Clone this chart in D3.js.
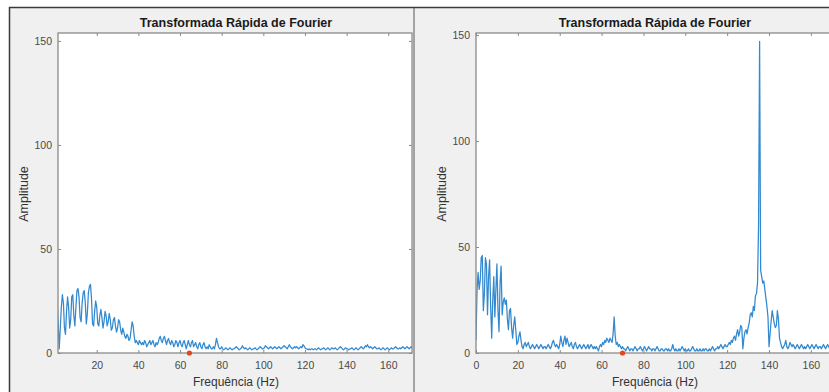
<!DOCTYPE html>
<html>
<head>
<meta charset="utf-8">
<script src="https://cdn.jsdelivr.net/npm/d3@7"></script>
<style>
  body { margin: 0; background: #fff; }
  svg { display: block; }
  text { font-family: "Liberation Sans", Arial, sans-serif; }
</style>
</head>
<body>
<script>
// amplitude spectra, 0.5 Hz bins
var step = 0.5;

// left figure, bins start at 1.0 Hz
var leftStart = 1.0;
var leftAmp = [
  24, 14, 2, 12, 22, 28, 24, 12, 9, 20, 27, 22, 12, 16, 27, 28, 18, 13, 22, 30,
  31, 27, 17, 15, 24, 29, 30, 24, 14, 19, 29, 32, 33, 26, 14, 13, 20, 25, 22, 14,
  13, 18, 21, 17, 12, 15, 20, 18, 13, 15, 19, 16, 11, 12, 16, 17, 13, 10, 12, 16,
  15, 11, 9, 12, 10, 8, 7, 9, 8, 6, 7, 11, 15, 13, 8, 5, 6, 5, 4, 6,
  5, 4, 5, 4, 6, 5, 3, 4, 5, 6, 4, 5, 6, 4, 3, 5, 4, 5, 7, 8,
  6, 5, 7, 8, 6, 4, 6, 7, 5, 4, 6, 5, 3, 4, 6, 5, 3, 5, 6, 4,
  3, 5, 6, 4, 2, 4, 6, 4, 3, 5, 6, 3, 4, 5, 3, 2, 4, 5, 3, 2,
  4, 5, 3, 2, 3, 2, 4, 3, 2, 2, 3, 2, 4, 7, 5, 3, 2, 2, 3, 2,
  1.5, 2, 2.5, 2, 1.5, 2, 2.5, 2, 1.5, 2, 2, 2.5, 3, 2.5, 2, 1.5, 2, 2.5, 3.5, 2.5,
  2, 2.5, 2, 1.5, 2, 2.5, 2, 1.5, 2, 2, 2.5, 2, 1.5, 2, 2.5, 3, 2.5, 2, 2, 2.5,
  3.5, 3, 2.5, 2, 2.5, 3, 2.5, 2, 2.5, 3, 2.5, 2, 2.5, 3, 2.5, 2, 2.5, 3, 3.5, 3,
  2.5, 2, 3, 4, 3, 2.5, 2, 2.5, 3, 2.5, 3, 2.5, 2, 2.5, 3, 2.5, 4, 3.5, 2.5, 2,
  2, 1.5, 2, 1.5, 2, 2, 1.5, 2, 2, 1.5, 2, 2.5, 2, 1.5, 2, 2, 2.5, 2, 1.5, 2,
  2.5, 2, 1.5, 2, 2.5, 2, 2, 2.5, 2, 1.5, 2, 2.5, 3, 2.5, 2, 1.5, 2, 2.5, 2, 2,
  1.5, 2, 2, 2.5, 2, 1.5, 2, 2.5, 2, 1.5, 2, 2.5, 3, 2.5, 2, 2.5, 3.5, 3, 4, 3,
  2.5, 3, 2.5, 2, 2.5, 3, 2.5, 2, 2, 2.5, 2, 1.5, 2, 2.5, 2, 1.5, 2, 2.5, 2, 1.5,
  2, 2.5, 2, 2, 2.5, 3, 2.5, 2, 2, 2.5, 2, 2.5, 3, 2.5, 2, 2.5, 3, 2.5, 2, 2.5,
  3, 2.5, 2, 2.5, 3, 2.5, 2
];

// right figure, bins start at 0 Hz
var rightStart = 0;
var rightAmp = [
  6, 30, 38, 30, 34, 45, 46, 20, 28, 45, 42, 18, 36, 44, 22, 7, 25, 36, 17, 30,
  42, 20, 10, 33, 41, 18, 24, 26, 23, 25, 16, 11, 20, 21, 12, 7, 13, 17, 11, 4,
  5, 8, 10, 6, 3, 2, 4, 5, 3, 4, 5, 3, 2, 3, 4, 3, 2, 3, 4, 3,
  2, 3, 4, 3, 2, 3, 3, 2, 3, 4, 3, 2, 3, 5, 6, 4, 3, 4, 3, 2,
  4, 8, 5, 3, 6, 8, 4, 7, 5, 3, 4, 5, 3, 2, 4, 5, 3, 2, 3, 4,
  3, 2, 3, 4, 3, 2, 3, 4, 2, 3, 4, 3, 2, 3, 2, 3, 2, 1, 3, 4,
  3, 5, 4, 6, 5, 7, 6, 5, 7, 6, 5, 9, 17, 8, 4, 5, 3, 4, 3, 2,
  3, 2, 2, 1, 2, 3, 2, 1, 2, 2, 1, 2, 3, 2, 1, 2, 2, 3, 2, 1,
  2, 3, 2, 1, 2, 3, 2, 2, 1, 2, 2, 1, 2, 3, 2, 1, 1, 2, 2, 1,
  1, 2, 2, 1, 2, 1, 1, 2, 4, 2, 1, 2, 1, 1, 2, 1, 2, 3, 2, 1,
  2, 1, 1, 2, 1, 1, 2, 3, 2, 1, 1, 2, 1, 1, 2, 1, 1, 2, 1, 2,
  2, 1, 1, 2, 1, 2, 3, 2, 1, 2, 2, 3, 2, 3, 4, 3, 2, 3, 4, 3,
  3, 4, 5, 4, 6, 5, 7, 8, 6, 9, 11, 8, 10, 13, 12, 2, 7, 10, 11, 9,
  12, 14, 18, 19, 17, 22, 20, 27, 28, 33, 60, 147, 39, 36, 33, 34, 30, 26, 22, 17,
  3, 9, 15, 20, 17, 14, 12, 13, 20, 16, 7, 5, 3, 2, 3, 4, 6, 3, 2, 3,
  5, 4, 3, 4, 3, 2, 3, 4, 3, 2, 3, 4, 3, 2, 3, 2, 3, 4, 3, 2,
  3, 4, 3, 2, 3, 4, 3, 2, 3, 3, 2, 3, 4, 3, 2, 3, 4, 3, 2, 3,
  4, 3, 2, 3, 4, 3, 2, 3, 4, 3, 2
];

var leftTicks = [20, 40, 60, 80, 100, 120, 140, 160];
var rightTicks = [0, 20, 40, 60, 80, 100, 120, 140, 160, 180];
var yTicks = [0, 50, 100, 150];
var leftMarker = 64.5;
var rightMarker = 70;

var titleText = "Transformada Rápida de Fourier";
var xLabel = "Frequência (Hz)";
var yLabel = "Amplitude";

var W = 829, H = 392;
var lineColor = "#3289cf";
var axisColor = "#8a8a8a";

var svg = d3.select("body").append("svg")
  .attr("width", W)
  .attr("height", H);

// figure window frame
svg.append("rect").attr("width", W).attr("height", H).attr("fill", "#fff");
svg.append("rect").attr("x", 10).attr("y", 8).attr("width", 403).attr("height", H - 8).attr("fill", "#f0f0f0");
svg.append("rect").attr("x", 415).attr("y", 8).attr("width", W - 415).attr("height", H - 8).attr("fill", "#f0f0f0");
svg.append("rect").attr("x", 413).attr("y", 8).attr("width", 2).attr("height", H - 8).attr("fill", "#a3a3a3");
svg.append("line").attr("x1", 9).attr("x2", W).attr("y1", 7.5).attr("y2", 7.5)
  .attr("stroke", "#3a3a3a").attr("stroke-width", 1.5);
svg.append("line").attr("x1", 9.5).attr("x2", 9.5).attr("y1", 7).attr("y2", H)
  .attr("stroke", "#3a3a3a").attr("stroke-width", 1.5);

function toPoints(amp, start) {
  return amp.map(function (a, i) { return { f: start + i * step, a: a }; });
}

function drawPanel(opt) {
  var g = svg.append("g");

  var x = d3.scaleLinear().domain(opt.xDomain).range([opt.left, opt.right]);
  var y = d3.scaleLinear().domain(opt.yDomain).range([353, 33]);

  var clipId = "clip" + opt.id;
  g.append("clipPath").attr("id", clipId)
    .append("rect")
    .attr("x", opt.left).attr("y", 33)
    .attr("width", opt.right - opt.left).attr("height", 320);

  g.append("rect")
    .attr("x", opt.left).attr("y", 33)
    .attr("width", opt.right - opt.left).attr("height", 320)
    .attr("fill", "#fff");

  var line = d3.line()
    .x(function (d) { return x(d.f); })
    .y(function (d) { return y(d.a); });

  g.append("path")
    .datum(toPoints(opt.amp, opt.start))
    .attr("clip-path", "url(#" + clipId + ")")
    .attr("fill", "none")
    .attr("stroke", lineColor)
    .attr("stroke-width", 1.25)
    .attr("stroke-linejoin", "round")
    .attr("d", line);

  // bottom axis with labels
  var xb = g.append("g")
    .attr("transform", "translate(0,353)")
    .call(d3.axisBottom(x).tickValues(opt.ticks).tickSize(-3).tickPadding(9));
  // top ticks
  var xt = g.append("g")
    .attr("transform", "translate(0,33)")
    .call(d3.axisTop(x).tickValues(opt.ticks).tickSize(-3).tickFormat(""));
  // left axis
  var yl = g.append("g")
    .attr("transform", "translate(" + opt.left + ",0)")
    .call(d3.axisLeft(y).tickValues(yTicks).tickSize(-3).tickPadding(6));
  // right ticks
  var yr = g.append("g")
    .attr("transform", "translate(" + opt.right + ",0)")
    .call(d3.axisRight(y).tickValues(yTicks).tickSize(-3).tickFormat(""));

  [xb, xt, yl, yr].forEach(function (a) {
    a.select(".domain").remove();
    a.selectAll(".tick line").attr("stroke", axisColor);
    a.selectAll(".tick text")
      .attr("fill", "#4a4a4a")
      .style("font-size", "10.5px");
  });
  xb.selectAll(".tick").filter(function (d) { return x(d) > opt.clipRight; }).remove();

  // box
  g.append("rect")
    .attr("x", opt.left).attr("y", 33)
    .attr("width", opt.right - opt.left).attr("height", 320)
    .attr("fill", "none")
    .attr("stroke", axisColor)
    .attr("stroke-width", 1.3);

  g.append("circle")
    .attr("cx", x(opt.marker)).attr("cy", y(0))
    .attr("r", 2.6)
    .attr("fill", "#e2461e");

  g.append("text")
    .attr("x", opt.titleX).attr("y", 27)
    .attr("text-anchor", "middle")
    .attr("fill", "#1a1a1a")
    .style("font-size", "12.5px")
    .style("font-weight", "bold")
    .text(titleText);

  g.append("text")
    .attr("x", opt.titleX).attr("y", 386)
    .attr("text-anchor", "middle")
    .attr("fill", "#333")
    .style("font-size", "12px")
    .text(xLabel);

  g.append("text")
    .attr("transform", "translate(" + opt.yLabelX + ",194) rotate(-90)")
    .attr("text-anchor", "middle")
    .attr("fill", "#333")
    .style("font-size", "12.5px")
    .text(yLabel);
}

drawPanel({
  id: "L", amp: leftAmp, start: leftStart,
  left: 58, right: 412, xDomain: [1.4, 171.4], yDomain: [0, 153.8],
  ticks: leftTicks, marker: leftMarker, clipRight: 412,
  titleX: 236, yLabelX: 28
});

drawPanel({
  id: "R", amp: rightAmp, start: rightStart,
  left: 476, right: 476 + 175 * 2.093, xDomain: [0, 175], yDomain: [0, 151],
  ticks: rightTicks, marker: rightMarker, clipRight: 829,
  titleX: 655, yLabelX: 446
});
</script>
</body>
</html>
